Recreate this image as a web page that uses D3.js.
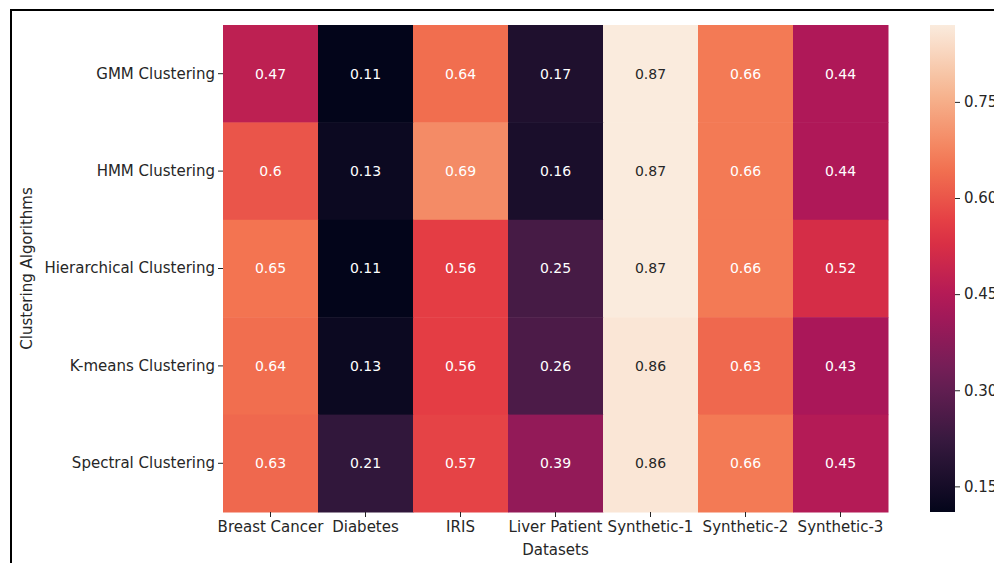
<!DOCTYPE html>
<html>
<head>
<meta charset="utf-8">
<script src="https://cdn.jsdelivr.net/npm/d3@7"></script>
<style>
  body { margin: 0; background: #fff; }
  svg { font-family: "DejaVu Sans", sans-serif; }
</style>
</head>
<body>
<div id="heatmap"></div>
<script>
const datasets = ["Breast Cancer", "Diabetes", "IRIS", "Liver Patient", "Synthetic-1", "Synthetic-2", "Synthetic-3"];
const algorithms = ["GMM Clustering", "HMM Clustering", "Hierarchical Clustering", "K-means Clustering", "Spectral Clustering"];
const scores = [
    [0.47, 0.11, 0.64, 0.17, 0.87, 0.66, 0.44],
    [0.6, 0.13, 0.69, 0.16, 0.87, 0.66, 0.44],
    [0.65, 0.11, 0.56, 0.25, 0.87, 0.66, 0.52],
    [0.64, 0.13, 0.56, 0.26, 0.86, 0.63, 0.43],
    [0.63, 0.21, 0.57, 0.39, 0.86, 0.66, 0.45]
];
const cbarTicks = [0.15, 0.30, 0.45, 0.60, 0.75];

// rocket colormap, approximated by a few stops
const rocketStops = ["#03051a", "#35193e", "#701f57", "#ad1759", "#e13342", "#f37651", "#f6b48f", "#faebdd"];
const rocket = d3.scaleLinear()
    .domain(rocketStops.map((d, i) => i / (rocketStops.length - 1)))
    .range(rocketStops)
    .interpolate(d3.interpolateRgb);

const W = 994, H = 563;
const margin = { top: 25, left: 223, right: 106, bottom: 51 };
const width = W - margin.left - margin.right;
const height = H - margin.top - margin.bottom;

const flat = scores.flat();
const vmin = d3.min(flat), vmax = d3.max(flat);
const color = v => rocket((v - vmin) / (vmax - vmin));

const svg = d3.select("#heatmap").append("svg")
    .attr("width", W)
    .attr("height", H);

// screenshot frame
svg.append("path")
    .attr("d", `M11,${H} L11,10 L${W},10`)
    .attr("fill", "none")
    .attr("stroke", "#000")
    .attr("stroke-width", 2);

const g = svg.append("g").attr("transform", `translate(${margin.left},${margin.top})`);

const x = d3.scaleBand().domain(datasets).range([0, width]);
const y = d3.scaleBand().domain(algorithms).range([0, height]);

const cells = [];
scores.forEach((row, i) => row.forEach((v, j) => cells.push({ alg: algorithms[i], ds: datasets[j], v: v })));

g.selectAll(".cell")
    .data(cells)
    .enter().append("rect")
    .attr("class", "cell")
    .attr("x", d => x(d.ds))
    .attr("y", d => y(d.alg))
    .attr("width", x.bandwidth() + 0.5)
    .attr("height", y.bandwidth() + 0.5)
    .attr("fill", d => color(d.v));

g.selectAll(".annot")
    .data(cells)
    .enter().append("text")
    .attr("class", "annot")
    .attr("x", d => x(d.ds) + x.bandwidth() / 2)
    .attr("y", d => y(d.alg) + y.bandwidth() / 2)
    .attr("dy", "0.35em")
    .attr("text-anchor", "middle")
    .attr("font-size", 14)
    .attr("fill", d => {
        const c = d3.rgb(color(d.v));
        const lum = 0.2126 * c.r + 0.7152 * c.g + 0.0722 * c.b;
        return lum > 200 ? "#262626" : "#fff";
    })
    .text(d => String(d.v));

const xAxis = g.append("g")
    .attr("transform", `translate(0,${height})`)
    .call(d3.axisBottom(x).tickSize(5).tickPadding(4));
const yAxis = g.append("g")
    .call(d3.axisLeft(y).tickSize(5).tickPadding(3));

[xAxis, yAxis].forEach(a => {
    a.select(".domain").remove();
    a.selectAll("line").attr("stroke", "#262626");
    a.selectAll("text").attr("font-size", 15).attr("fill", "#262626").attr("font-family", "DejaVu Sans");
});

svg.append("text")
    .attr("x", margin.left + width / 2)
    .attr("y", 555)
    .attr("text-anchor", "middle")
    .attr("font-size", 15)
    .attr("fill", "#262626")
    .text("Datasets");

svg.append("text")
    .attr("transform", `translate(32,${margin.top + height / 2}) rotate(-90)`)
    .attr("text-anchor", "middle")
    .attr("font-size", 15)
    .attr("fill", "#262626")
    .text("Clustering Algorithms");

// colorbar
const cbX = 930, cbW = 25;
const cy = d3.scaleLinear().domain([vmin, vmax]).range([margin.top + height, margin.top]);
const defs = svg.append("defs");
const grad = defs.append("linearGradient")
    .attr("id", "cbar")
    .attr("x1", 0).attr("y1", 1).attr("x2", 0).attr("y2", 0);
d3.range(0, 1.0001, 0.05).forEach(t => {
    grad.append("stop").attr("offset", t).attr("stop-color", rocket(t));
});
svg.append("rect")
    .attr("x", cbX)
    .attr("y", margin.top)
    .attr("width", cbW)
    .attr("height", height)
    .attr("fill", "url(#cbar)");

const cAxis = svg.append("g")
    .attr("transform", `translate(${cbX + cbW},0)`)
    .call(d3.axisRight(cy).tickValues(cbarTicks).tickFormat(d3.format(".2f")).tickSize(5).tickPadding(4));
cAxis.select(".domain").remove();
cAxis.selectAll("line").attr("stroke", "#262626");
cAxis.selectAll("text").attr("font-size", 15).attr("fill", "#262626").attr("font-family", "DejaVu Sans");
</script>
</body>
</html>
